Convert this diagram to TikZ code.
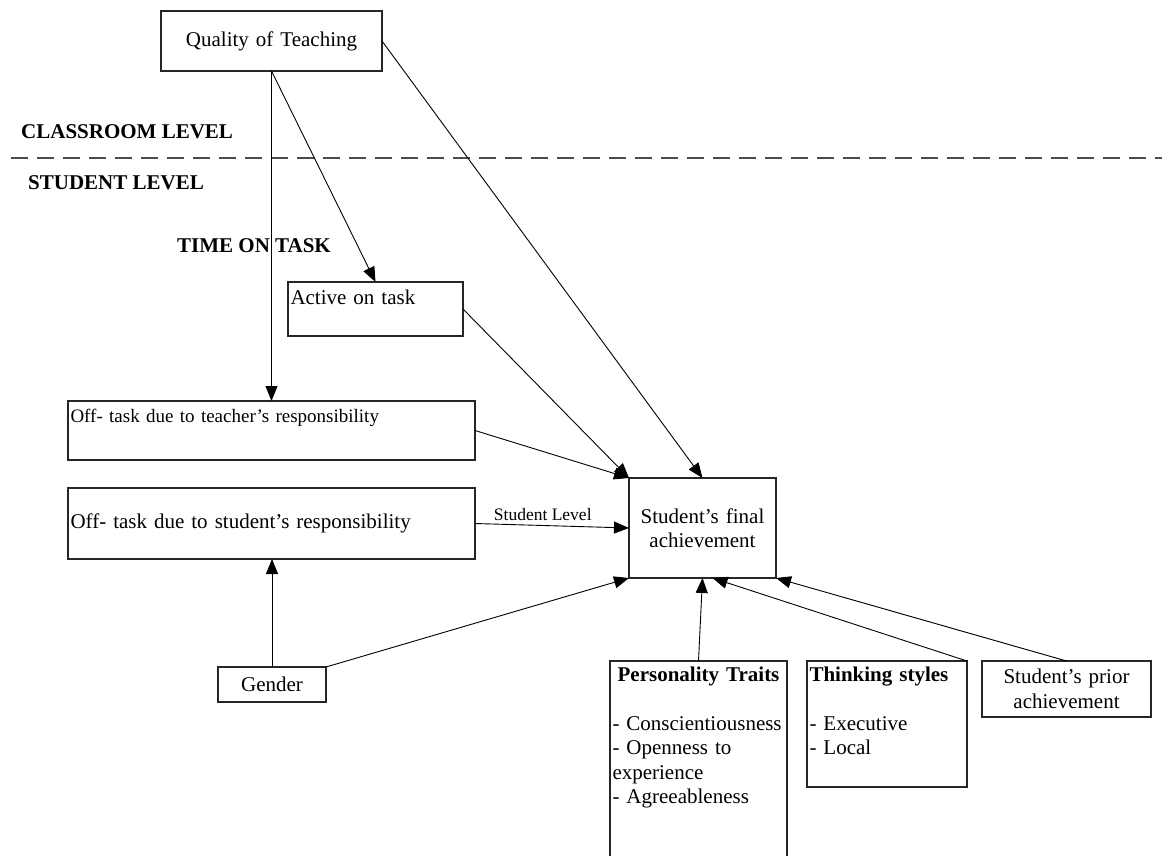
\documentclass[tikz,border=0pt]{standalone}
\usepackage{fontspec}
\setmainfont{Liberation Serif}
\usetikzlibrary{arrows.meta}

% type sizes used in the model
\newcommand\mainsize{\fontsize{21bp}{24.5bp}\selectfont}
\newcommand\offsize{\fontsize{19bp}{22bp}\selectfont}
\newcommand\pathlabelsize{\fontsize{17.5bp}{20bp}\selectfont}

\begin{document}
\begin{tikzpicture}[x=1bp, y=-1bp,
  every node/.style={font=\mainsize, text=black},
  box/.style={draw=black!85, line width=1.2bp, anchor=north west,
              inner xsep=2.5bp, inner ysep=0pt, outer sep=0pt},
  conn/.style={draw=black, line width=0.9bp,
               -{Triangle[length=15bp, width=12bp]}},
  level/.style={font=\mainsize\bfseries, anchor=west, inner sep=0pt},
  divider/.style={draw=black!70, line width=1.3bp, dash pattern=on 17bp off 9bp},
]

% page frame
\path[use as bounding box] (0,0) rectangle (1162,856);
\clip (0,0) rectangle (1162,856);

% level headings and the level divider
\node[level] (classroom) at (21,132) {CLASSROOM LEVEL};
\node[level] (studentlvl) at (28,183) {STUDENT LEVEL};
\node[level] (timeontask) at (177,246) {TIME ON TASK};
\coordinate (divL) at (11,158);
\coordinate (divR) at (1162,158);
\draw[divider] (divL) -- (divR);

% boxes
\node[box, text width=216bp, minimum height=60bp, align=center] (qot) at (161,11)
  {Quality of Teaching};
\node[box, text width=170bp, align=left, text height=22bp, text depth=32bp] (act) at (288,282)
  {Active on task};
\node[box, text width=402bp, align=left, font=\offsize, text height=21bp, text depth=38bp] (oft) at (68,401)
  {Off- task due to teacher's responsibility};
\node[box, text width=402bp, minimum height=71bp, align=left] (ofs) at (68,488)
  {Off- task due to student's responsibility};
\node[box, text width=142bp, minimum height=100bp, align=center] (fin) at (629,478)
  {Student's final\\achievement};
\node[box, text width=103bp, minimum height=35bp, align=center] (gen) at (218,667)
  {Gender};
\node[box, text width=172bp, align=left, text height=20bp, text depth=195bp] (per) at (610,661)
  {{\centering\bfseries Personality Traits\par}%
   \mbox{}\\- Conscientiousness\\- Openness to\\experience\\- Agreeableness};
\node[box, text width=155bp, align=left, text height=20bp, text depth=106bp] (thk) at (807,661)
  {\textbf{Thinking styles}\\\mbox{}\\- Executive\\- Local};
\node[box, text width=164bp, minimum height=56bp, align=center] (pri) at (982,661)
  {Student's prior\\achievement};

% connectors
\draw[conn] (qot.south) -- (qot.south |- oft.north);
\draw[conn] (qot.south) -- (act.north);
\draw[conn] (qot.east) -- (fin.north);
\draw[conn] (act.east) -- (fin.north west);
\draw[conn] (oft.east) -- (fin.north west);
\draw[conn] (ofs.east) -- node[pos=0.44, above=4bp, inner sep=0pt, font=\pathlabelsize] {Student Level} (fin.west);
\draw[conn] (gen.north) -- (gen.north |- ofs.south);
\draw[conn] (gen.north east) -- (fin.south west);
\draw[conn] (per.north) -- (fin.south);
\draw[conn] (thk.north east) -- ([xshift=10bp]fin.south);
\draw[conn] (pri.north) -- (fin.south east);

\end{tikzpicture}
\end{document}
